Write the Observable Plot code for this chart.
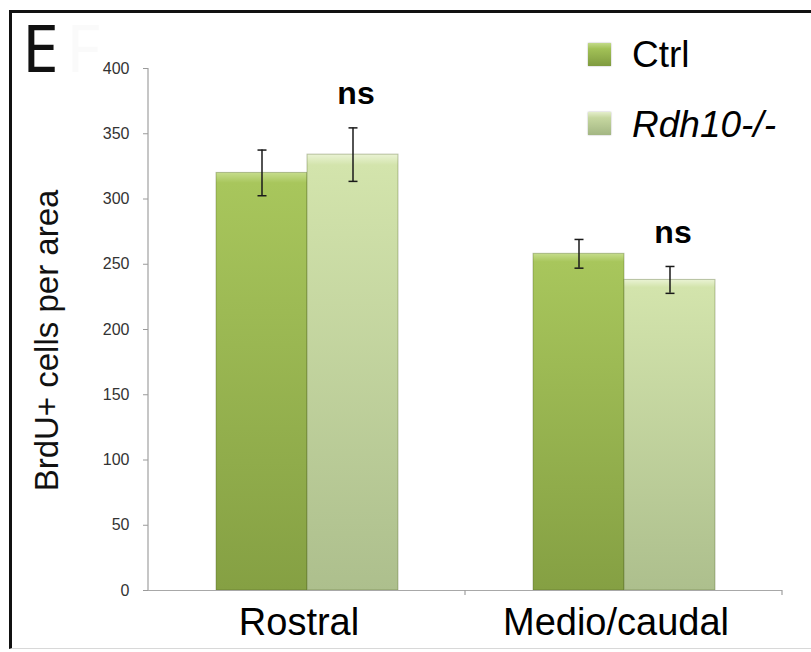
<!DOCTYPE html>
<html>
<head>
<meta charset="utf-8">
<script src="https://cdn.jsdelivr.net/npm/d3@7"></script>
<script src="https://cdn.jsdelivr.net/npm/@observablehq/plot@0.6"></script>
<style>
  html, body { margin: 0; padding: 0; background: #fff; }
  #wrap { position: relative; width: 811px; height: 652px; overflow: hidden; font-family: "Liberation Sans", Arial, sans-serif; }
  #wrap svg.plot { position: absolute; left: 0; top: 0; }
  #border { position: absolute; left: 9px; top: 10px; width: 802px; height: 639px; border-left: 3px solid #111; border-top: 3px solid #111; border-bottom: 1px solid #d8d8d8; box-sizing: border-box; pointer-events: none; }
  .panel { position: absolute; font-family: "Noto Sans", sans-serif; font-size: 66px; line-height: 48px; color: #111; }
  .sw { position: absolute; width: 23px; height: 23px; }
  .lt { position: absolute; font-size: 37px; line-height: 37px; color: #000; white-space: nowrap; }
</style>
</head>
<body>
<svg width="0" height="0" style="position:absolute">
  <defs>
    <linearGradient id="gCtrl" x1="0" y1="0" x2="0" y2="1">
      <stop offset="0" stop-color="#c6dd8c"/>
      <stop offset="0.025" stop-color="#a8c65c"/>
      <stop offset="1" stop-color="#85a043"/>
    </linearGradient>
    <linearGradient id="gRdh" x1="0" y1="0" x2="0" y2="1">
      <stop offset="0" stop-color="#eaf3d4"/>
      <stop offset="0.025" stop-color="#d3e4ac"/>
      <stop offset="1" stop-color="#adbf8d"/>
    </linearGradient>
  </defs>
</svg>
<div id="wrap">
  <div id="border"></div>
  <div class="panel" style="left:22px; top:22px;">E</div>
  <div class="panel" style="left:66px; top:22px; color:#fafafa;">F</div>
</div>
<script>
// ---- data ----
const categories = ["Rostral", "Medio/caudal"];
const series = ["Ctrl", "Rdh10-/-"];
const ctrlMean = [320, 258];
const ctrlErr = [17.5, 11];
const rdhMean = [334, 238];
const rdhErr = [20.5, 10.3];
const sigLabels = ["ns", "ns"];
const yTicks = [0, 50, 100, 150, 200, 250, 300, 350, 400];
const yLabel = "BrdU+ cells per area";

// ---- table ----
const rows = categories.flatMap((c, i) => [
  {cat: c, series: series[0], mean: ctrlMean[i], err: ctrlErr[i]},
  {cat: c, series: series[1], mean: rdhMean[i], err: rdhErr[i]}
]);
const sigRows = categories.map((c, i) => {
  const r = rows.find(d => d.cat === c && d.series === series[1]);
  return {...r, label: sigLabels[i]};
});

const capSymbol = {
  draw(context, size) {
    const w = Math.sqrt(size / Math.PI);
    context.moveTo(-w, 0);
    context.lineTo(w, 0);
  }
};

const plot = Plot.plot({
  width: 811,
  height: 652,
  marginLeft: 147,
  marginRight: 29,
  marginTop: 68,
  marginBottom: 62,
  style: {fontFamily: "'Liberation Sans', Arial, sans-serif", background: "transparent", overflow: "visible"},
  fx: {domain: categories, padding: 0},
  x: {domain: series, paddingInner: 0, paddingOuter: 0.73, axis: null},
  y: {domain: [0, 400]},
  color: {domain: series, range: ["url(#gCtrl)", "url(#gRdh)"]},
  marks: [
    Plot.axisY({ticks: yTicks, tickSize: 5, tickPadding: 14, stroke: "#9a9a9a", fill: "#333", fontSize: 16, label: null}),
    Plot.axisFx({anchor: "bottom", tickSize: 0, tickPadding: 18, fontSize: 38, fill: "#000", label: null, dx: -8}),
    Plot.barY(rows, {fx: "cat", x: "series", y: "mean", fill: "series", stroke: "rgba(70,90,30,0.35)", strokeWidth: 1}),
    Plot.ruleY([0], {stroke: "#a8a8a8", strokeWidth: 1.2}),
    Plot.ruleX(rows, {fx: "cat", x: "series", y1: d => d.mean - d.err, y2: d => d.mean + d.err, stroke: "#1a1a1a", strokeWidth: 1.5}),
    Plot.dot(rows, {fx: "cat", x: "series", y: d => d.mean - d.err, symbol: capSymbol, r: 4.5, fill: "none", stroke: "#1a1a1a", strokeWidth: 1.5}),
    Plot.dot(rows, {fx: "cat", x: "series", y: d => d.mean + d.err, symbol: capSymbol, r: 4.5, fill: "none", stroke: "#1a1a1a", strokeWidth: 1.5}),
    Plot.text(sigRows, {fx: "cat", x: "series", y: d => d.mean + d.err, dy: -34, dx: 3, text: "label", fontSize: 32, fontWeight: "bold", lineAnchor: "middle", fill: "#000"}),
    Plot.text([yLabel], {fx: [categories[0]], frameAnchor: "left", textAnchor: "middle", rotate: -90, dx: -114, dy: 11, lineAnchor: "top", fontSize: 33, fill: "#111"})
  ]
});
plot.classList.add("plot");
const wrap = document.getElementById("wrap");
wrap.insertBefore(plot, document.getElementById("border"));

// axis line on the left and category boundary ticks, from the plot's own scales
const ys = plot.scale("y");
const fxs = plot.scale("fx");
const y0 = ys.apply(0), yTop = ys.apply(400);
const svg = d3.select(plot);
const g = svg.append("g").attr("stroke", "#a0a0a0").attr("stroke-width", 1.2);
const left = fxs.apply(categories[0]);
g.append("line").attr("x1", left).attr("x2", left).attr("y1", yTop).attr("y2", y0);
const bounds = categories.slice(1).map(c => fxs.apply(c)).concat([fxs.apply(categories[categories.length - 1]) + fxs.bandwidth]);
bounds.forEach(bx => {
  g.append("line").attr("x1", bx).attr("x2", bx).attr("y1", y0).attr("y2", y0 + 5);
});

// legend
const legendTop = [43, 112];
const legendText = [54, 124];
series.forEach((s, i) => {
  const sw = document.createElement("div");
  sw.className = "sw";
  sw.style.left = "588px";
  sw.style.top = legendTop[i] + "px";
  sw.style.background = i === 0
    ? "linear-gradient(#c2da88 0%, #a2c157 25%, #7f9b3f 100%)"
    : "linear-gradient(#e4eecb 0%, #c6d7a0 25%, #a3b683 100%)";
  sw.style.boxShadow = "0 0 1.5px rgba(0,0,0,0.35)";
  wrap.appendChild(sw);
  const t = document.createElement("div");
  t.className = "lt";
  t.style.left = "632px";
  t.style.top = (legendText[i] - 18.5) + "px";
  if (i === 1) t.style.fontStyle = "italic";
  t.textContent = s;
  wrap.appendChild(t);
});
</script>
</body>
</html>
